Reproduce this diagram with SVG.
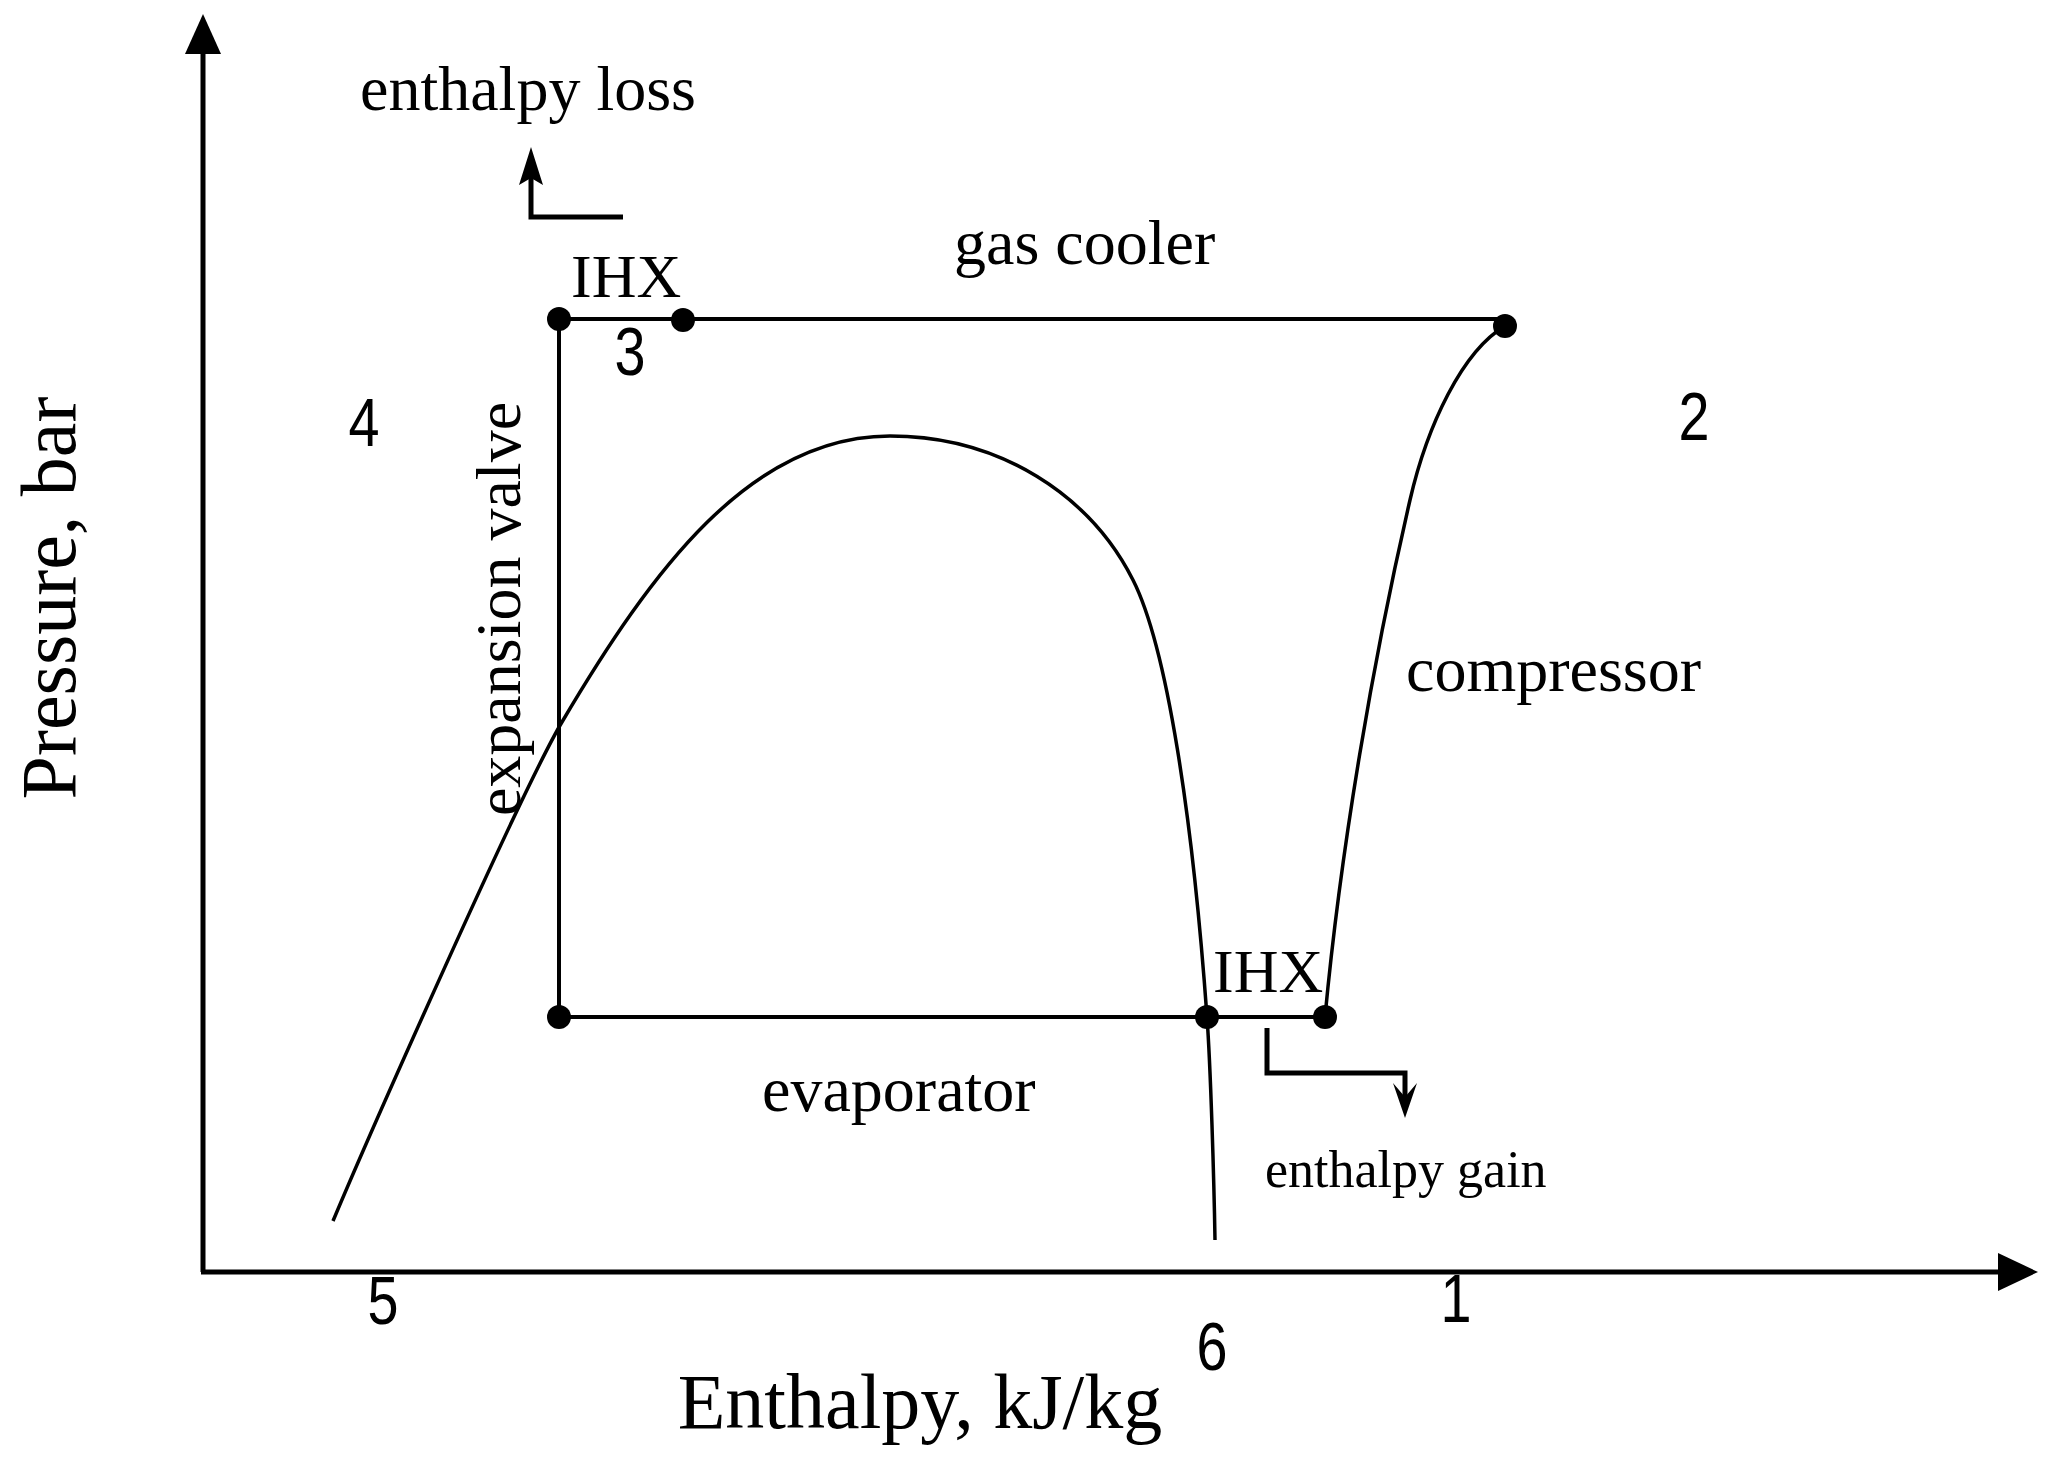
<svg xmlns="http://www.w3.org/2000/svg" width="2054" height="1458" viewBox="0 0 2054 1458">
<style>
.ax{stroke:#000;stroke-width:5;fill:none}
.ln{stroke:#000;stroke-width:4;fill:none}
.crv{stroke:#000;stroke-width:3.5;fill:none;stroke-linejoin:round}
.arr{stroke:#000;stroke-width:5;fill:none}
.dot{fill:#000}
.hd{fill:#000}
.serif{font-family:"Liberation Serif","Times New Roman",serif;fill:#000}
.num{font-family:"Liberation Sans",Arial,sans-serif;fill:#000;font-size:68px;text-anchor:middle}
</style>
<rect width="2054" height="1458" fill="#fff"/>
<g id="axes">
  <line class="ax" x1="203" y1="1272" x2="203" y2="50"/>
  <polygon class="hd" points="203,14 221,54 185,54"/>
  <line class="ax" x1="201" y1="1272" x2="2000" y2="1272"/>
  <polygon class="hd" points="2038,1272 1998,1253 1998,1291"/>
  <text class="serif" font-size="78" text-anchor="middle" transform="translate(75,598) rotate(-90)">Pressure, bar</text>
  <text class="serif" font-size="78" text-anchor="middle" x="920" y="1428">Enthalpy, kJ/kg</text>
</g>
<g id="connectors">
  <path id="saturation-dome" class="crv" d="M333,1221 C364,1147 521,791 562,722 C651,571.5 750,436 890,436 C1000,436 1090.3,495.5 1133,580 C1166.8,646.8 1192.6,817 1207,1017 C1210.6,1067 1214,1180 1215,1240"/>
  <path id="compressor-line" class="crv" d="M1325,1017 C1341,847 1373,660 1410,500 C1427.3,425 1462.5,351 1505,326"/>
  <path id="gas-cooler-line" class="ln" d="M559,319 H1500"/>
  <path id="expansion-line" class="ln" d="M559,319 V1017"/>
  <path id="evaporator-line" class="ln" d="M559,1017 H1325"/>
  <g id="enthalpy-loss-arrow">
    <path class="arr" d="M623,217 H531 V178"/>
    <polygon class="hd" points="531,147 543,185 531,178 519,185"/>
  </g>
  <g id="enthalpy-gain-arrow">
    <path class="arr" d="M1267,1028 V1073 H1405 V1100"/>
    <polygon class="hd" points="1405,1118 1393,1083 1405,1097 1417,1083"/>
  </g>
</g>
<g id="point-4"><circle class="dot" cx="559" cy="319" r="12"/></g>
<g id="point-3"><circle class="dot" cx="683" cy="320" r="12"/></g>
<g id="point-2"><circle class="dot" cx="1505" cy="326" r="12"/></g>
<g id="point-5"><circle class="dot" cx="559" cy="1017" r="12"/></g>
<g id="point-6"><circle class="dot" cx="1207" cy="1017" r="12"/></g>
<g id="point-1"><circle class="dot" cx="1325" cy="1017" r="12"/></g>
<g id="labels">
  <text class="serif" font-size="64" x="360" y="110">enthalpy loss</text>
  <text class="serif" font-size="62" x="571" y="297">IHX</text>
  <text class="serif" font-size="64" x="954" y="264">gas cooler</text>
  <text class="serif" font-size="64" x="1406" y="691">compressor</text>
  <text class="serif" font-size="64" text-anchor="middle" transform="translate(520,609) rotate(-90)">expansion valve</text>
  <text class="serif" font-size="64" x="762" y="1111">evaporator</text>
  <text class="serif" font-size="62" x="1213" y="992">IHX</text>
  <text class="serif" font-size="52" x="1265" y="1187">enthalpy gain</text>
  <text class="num" transform="translate(630,375) scale(0.82,1)">3</text>
  <text class="num" transform="translate(364,446) scale(0.82,1)">4</text>
  <text class="num" transform="translate(1694,440) scale(0.82,1)">2</text>
  <text class="num" transform="translate(383,1324) scale(0.82,1)">5</text>
  <text class="num" transform="translate(1212,1370) scale(0.82,1)">6</text>
  <text class="num" transform="translate(1456,1322) scale(0.82,1)">1</text>
</g>
</svg>
